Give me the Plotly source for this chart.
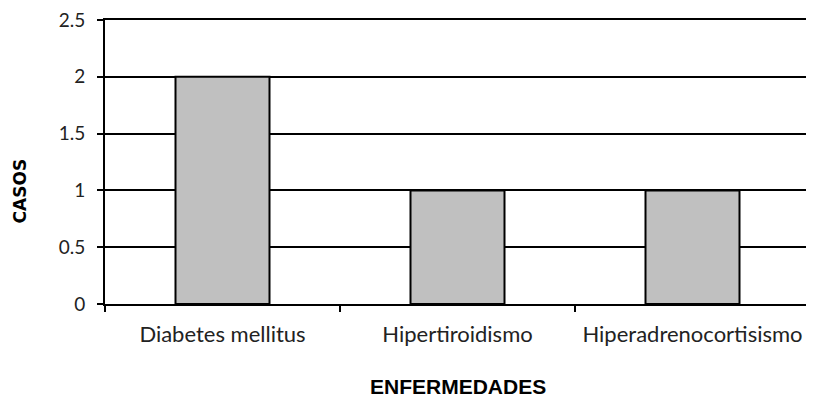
import plotly.graph_objects as go

categories = ["Diabetes mellitus", "Hipertiroidismo", "Hiperadrenocortisismo"]
casos = [2, 1, 1]
y_ticks = [0, 0.5, 1, 1.5, 2, 2.5]
y_tick_labels = ["0", "0.5", "1", "1.5", "2", "2.5"]
x_title = "ENFERMEDADES"
y_title = "CASOS"

fig = go.Figure()
fig.add_trace(go.Bar(
    x=categories, y=casos, width=0.4,
    marker=dict(color="#C0C0C0", line=dict(color="black", width=2)),
))

fig.update_layout(
    width=806, height=396,
    margin=dict(l=97, r=4, t=12, b=100, autoexpand=False),
    plot_bgcolor="white", paper_bgcolor="white",
    showlegend=False,
    font=dict(family="Lato, Open Sans, sans-serif", size=18, color="#222"),
)
fig.update_xaxes(
    showline=True, linecolor="black", linewidth=2, mirror=True,
    ticks="outside", tickson="boundaries", ticklen=6, tickwidth=2, tickcolor="black",
    showgrid=False, tickangle=0, automargin=False, ticklabelstandoff=10,
    ticklabeloverflow="allow",
    tickfont=dict(size=22),
)
fig.update_yaxes(
    range=[0, 2.5], tickvals=y_ticks, ticktext=y_tick_labels,
    showline=True, linecolor="black", linewidth=2, mirror=True,
    ticks="outside", ticklen=6, tickwidth=2, tickcolor="black",
    showgrid=True, gridcolor="black", gridwidth=2,
    zeroline=False, automargin=False, ticklabelstandoff=8,
    ticklabeloverflow="allow",
    tickfont=dict(size=19),
)
fig.add_annotation(
    text="<b>" + x_title + "</b>", xref="paper", yref="paper", x=0.5, y=-0.29,
    xanchor="center", yanchor="middle", showarrow=False,
    font=dict(family="Liberation Sans, Arial", size=21, color="black"),
)
fig.add_annotation(
    text="<b>" + y_title + "</b>", xref="paper", yref="paper", x=-0.1206, y=0.40,
    xanchor="center", yanchor="middle", showarrow=False, textangle=-90,
    font=dict(family="DejaVu Sans, Liberation Sans", size=17, color="black"),
)

fig.write_html("out.html")
